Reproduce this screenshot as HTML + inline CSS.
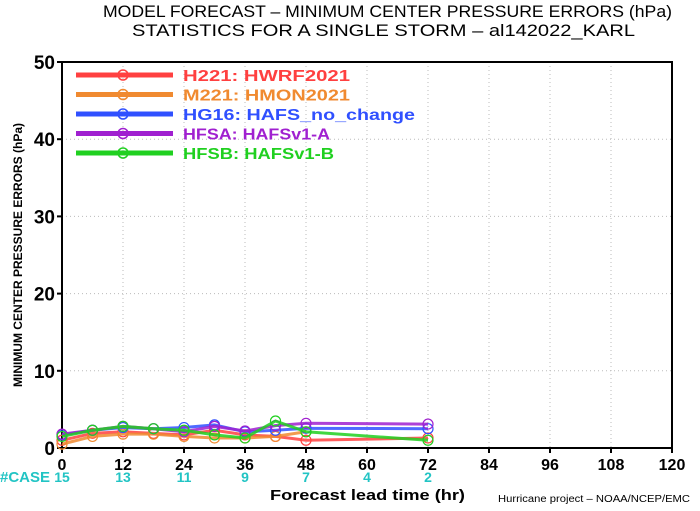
<!DOCTYPE html>
<html><head><meta charset="utf-8"><style>
body{margin:0;background:#fff;}
svg text{font-family:"Liberation Sans",sans-serif;}
</style></head><body>
<svg id="chart" width="700" height="506" viewBox="0 0 700 506" xmlns="http://www.w3.org/2000/svg">
<text x="103" y="17" font-size="17" textLength="569" lengthAdjust="spacingAndGlyphs">MODEL FORECAST – MINIMUM CENTER PRESSURE ERRORS (hPa)</text>
<text x="132" y="36" font-size="17" textLength="503" lengthAdjust="spacingAndGlyphs">STATISTICS FOR A SINGLE STORM – al142022_KARL</text>
<g id="grid"></g>
<g id="axes"></g>
<g id="series"></g>
<g id="legend"></g>
<text x="22" y="255" font-size="12" font-weight="bold" text-anchor="middle" transform="rotate(-90 22 255)">MINIMUM CENTER PRESSURE ERRORS (hPa)</text>
<text x="270" y="500" font-size="15" font-weight="bold" textLength="195" lengthAdjust="spacingAndGlyphs">Forecast lead time (hr)</text>
<text x="498" y="502" font-size="10" textLength="192" lengthAdjust="spacingAndGlyphs">Hurricane project – NOAA/NCEP/EMC</text>
<text x="0" y="482" font-size="15" font-weight="bold" fill="#22c4c4">#CASE</text>
</svg>
<script>
const leads=[0,6,12,18,24,30,36,42,48,72];
const xTicks=[0,12,24,36,48,60,72,84,96,108,120];
const yTicks=[0,10,20,30,40,50];
const caseLeads=[0,12,24,36,48,60,72];
const caseCounts=[15,13,11,9,7,4,2];
const h221=[1.0,1.9,2.1,1.9,1.7,2.3,1.7,1.5,1.0,1.3];
const m221=[0.5,1.5,1.8,1.8,1.5,1.3,1.3,1.5,2.1,null];
const hg16=[1.7,2.3,2.65,2.5,2.65,3.0,2.1,2.3,2.55,2.5];
const hfsa=[1.8,2.3,2.8,2.5,2.1,2.8,2.2,2.9,3.2,3.1];
const hfsb=[1.5,2.3,2.8,2.5,2.3,1.7,1.3,3.5,2.1,1.0];
const seriesNames=["H221: HWRF2021","M221: HMON2021","HG16: HAFS_no_change","HFSA: HAFSv1-A","HFSB: HAFSv1-B"];
const legendWidths=[167,167,232,147,151];
const seriesColors=["#ff4040","#f08a30","#3050ff","#a020d0","#20d020"];
const seriesData=[h221,m221,hg16,hfsa,hfsb];
const L=62,R=672,T=62,B=448;
const xs=v=>L+(v/120)*(R-L);
const ys=v=>B-(v/50)*(B-T);
const NS="http://www.w3.org/2000/svg";
function mk(tag,parent,attrs){const e=document.createElementNS(NS,tag);for(const k in attrs)e.setAttribute(k,attrs[k]);parent.appendChild(e);return e;}
const grid=document.getElementById('grid'),axes=document.getElementById('axes'),ser=document.getElementById('series'),leg=document.getElementById('legend');
xTicks.forEach(t=>{
 if(t>0&&t<120){const g=mk('line',grid,{x1:xs(t),x2:xs(t),y1:T,y2:B,stroke:'#bbb','stroke-dasharray':'1 3'});
 
 }
 const tx=mk('text',axes,{x:xs(t),y:470,'font-size':16,'font-weight':'bold','text-anchor':'middle'});tx.textContent=t;
 
 
 mk('line',axes,{x1:xs(t),x2:xs(t),y1:B,y2:B+5,stroke:'#000','stroke-width':2});
});
yTicks.forEach(t=>{
 if(t>0&&t<50){const g=mk('line',grid,{x1:L,x2:R,y1:ys(t),y2:ys(t),stroke:'#bbb','stroke-dasharray':'1 3'});
 
 }
 const tx=mk('text',axes,{x:55,y:ys(t)+7,'font-size':19,'font-weight':'bold','text-anchor':'end'});tx.textContent=t;
 
 
 mk('line',axes,{x1:L-5,x2:L,y1:ys(t),y2:ys(t),stroke:'#000','stroke-width':2});
});
const fr=mk('rect',axes,{x:L,y:T,width:R-L,height:B-T,fill:'none',stroke:'#000','stroke-width':2});


caseLeads.forEach((l,i)=>{const tx=mk('text',axes,{x:xs(l),y:482,'font-size':14,'font-weight':'bold','fill':'#22c4c4','text-anchor':'middle'});tx.textContent=caseCounts[i];
 
 });
seriesData.forEach((d,si)=>{
 const c=seriesColors[si];
 const pts=[];d.forEach((v,i)=>{if(v!=null)pts.push([xs(leads[i]),ys(v)]);});
 const pl=mk('polyline',ser,{points:pts.map(p=>p.join(',')).join(' '),fill:'none',stroke:c,'stroke-width':3,'stroke-opacity':0.85});
 
 
 pts.forEach(p=>{const ci=mk('circle',ser,{cx:p[0],cy:p[1],r:5,fill:'none',stroke:c,'stroke-width':1.2});
 
 });
 const ly=75+si*19.5;
 const ll=mk('line',leg,{x1:76,x2:173,y1:ly,y2:ly,stroke:c,'stroke-width':5});
 
 
 mk('circle',leg,{cx:123,cy:ly,r:5,fill:'none',stroke:c,'stroke-width':1.5});
 const lt=mk('text',leg,{x:183,y:ly+6,'font-size':16,'font-weight':'bold',fill:c,textLength:legendWidths[si],lengthAdjust:'spacingAndGlyphs'});lt.textContent=seriesNames[si];
 
 
});
</script>
</body></html>
